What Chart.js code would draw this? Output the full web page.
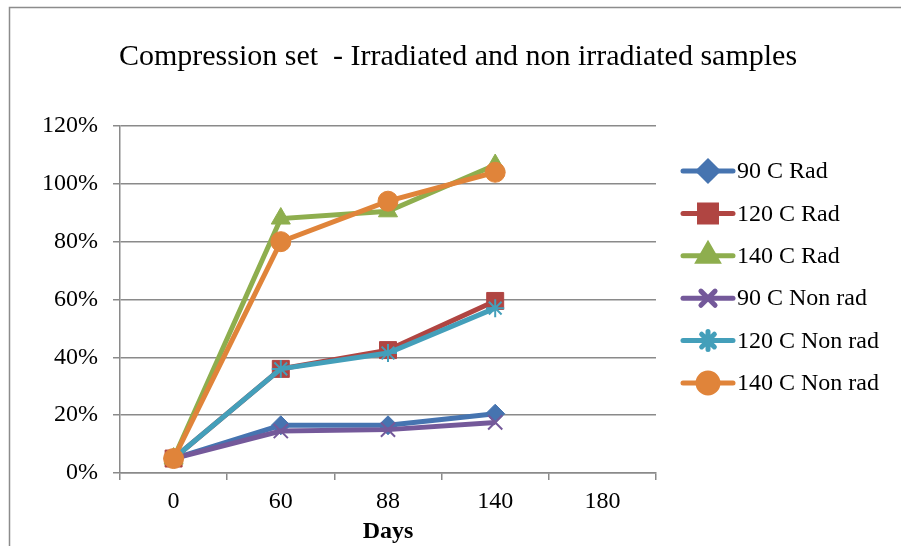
<!DOCTYPE html>
<html>
<head>
<meta charset="utf-8">
<script src="https://cdn.jsdelivr.net/npm/chart.js@4/dist/chart.umd.min.js"></script>
<style>
  html, body { margin: 0; padding: 0; background: #ffffff; }
  #wrap { width: 901px; height: 546px; position: relative; }
</style>
</head>
<body>
<div id="wrap"><canvas id="c" width="901" height="546"></canvas></div>
<script>
const chartTitle = 'Compression set  - Irradiated and non irradiated samples';
const xTitle = 'Days';
const categories = ['0', '60', '88', '140', '180'];
const seriesNames = ['90 C Rad', '120 C Rad', '140 C Rad', '90 C Non rad', '120 C Non rad', '140 C Non rad'];
const rad90 = [5, 16.5, 16.5, 20.5, null];
const rad120 = [5, 36, 42.5, 59.5, null];
const rad140 = [5, 88, 90.5, 106.5, null];
const nonRad90 = [5, 14.5, 15, 17.5, null];
const nonRad120 = [5, 36, 41.5, 57, null];
const nonRad140 = [5, 80, 94, 104, null];
const yTicks = [0, 20, 40, 60, 80, 100, 120];

const seriesValues = [rad90, rad120, rad140, nonRad90, nonRad120, nonRad140];
const colors = ['#4674b0', '#b04542', '#8eae4e', '#74599a', '#449fba', '#e0843a'];
const shapes = ['rectRot', 'rect', 'triangle', 'crossRot', 'star', 'circle'];
const radii = [9.5, 12, 11, 10, 9, 10];
const FONT = '"Liberation Serif", "Times New Roman", serif';
const GRID = '#8a8a8a';

const datasets = seriesNames.map((name, i) => ({
  label: name,
  data: seriesValues[i],
  borderColor: colors[i],
  backgroundColor: colors[i],
  borderWidth: 5,
  pointStyle: shapes[i],
  pointRadius: radii[i],
  pointHoverRadius: radii[i],
  pointBorderWidth: (shapes[i] === 'crossRot' || shapes[i] === 'star') ? 2 : 1,
  pointBorderColor: colors[i],
  pointBackgroundColor: colors[i],
  tension: 0,
  spanGaps: false,
  order: seriesNames.length - i
}));

const framePlugin = {
  id: 'frame',
  beforeDraw(chart) {
    const ctx = chart.ctx;
    ctx.save();
    ctx.fillStyle = '#ffffff';
    ctx.fillRect(0, 0, chart.width, chart.height);
    ctx.strokeStyle = '#8c8c8c';
    ctx.lineWidth = 1.5;
    ctx.strokeRect(9.5, 7.5, 1200, 1200);
    ctx.restore();
  }
};

const titleLegendPlugin = {
  id: 'titleLegend',
  afterDraw(chart) {
    const ctx = chart.ctx;
    ctx.save();
    ctx.fillStyle = '#000000';
    ctx.font = '30px ' + FONT;
    ctx.textAlign = 'center';
    ctx.textBaseline = 'alphabetic';
    ctx.fillText(chartTitle, 458, 65);

    const x0 = 683, x1 = 733, tx = 737;
    const yStart = 171, step = 42.4;
    chart.data.datasets.forEach((ds, i) => {
      const y = yStart + i * step;
      ctx.strokeStyle = ds.borderColor;
      ctx.lineWidth = 5;
      ctx.lineCap = 'round';
      ctx.beginPath();
      ctx.moveTo(x0, y);
      ctx.lineTo(x1, y);
      ctx.stroke();
      Chart.helpers.drawPoint(ctx, {
        pointStyle: ds.pointStyle,
        radius: ds.pointRadius,
        rotation: 0,
        borderWidth: ds.pointBorderWidth
      }, (x0 + x1) / 2, y);
      ctx.fillStyle = ds.borderColor;
      ctx.strokeStyle = ds.borderColor;
      ctx.lineWidth = ds.pointBorderWidth;
      ctx.fill();
      if (ds.pointBorderWidth) ctx.stroke();
      ctx.fillStyle = '#000000';
      ctx.font = '24px ' + FONT;
      ctx.textAlign = 'left';
      ctx.textBaseline = 'middle';
      ctx.fillText(ds.label, tx, y + 1);
    });
    ctx.restore();
  }
};

new Chart(document.getElementById('c'), {
  type: 'line',
  data: { labels: categories, datasets: datasets },
  options: {
    responsive: false,
    animation: false,
    events: [],
    layout: { padding: { left: 0, right: 245, top: 126, bottom: 0 } },
    plugins: {
      legend: { display: false },
      title: { display: false },
      tooltip: { enabled: false }
    },
    scales: {
      x: {
        type: 'category',
        offset: true,
        afterFit(scale) { scale.height = 73; },
        grid: {
          display: true,
          offset: true,
          drawOnChartArea: false,
          drawTicks: true,
          tickLength: 7,
          color: GRID,
          lineWidth: 1.5
        },
        border: { display: true, color: GRID, width: 1.5 },
        ticks: {
          color: '#000000',
          font: { family: FONT, size: 24 },
          padding: 7,
          maxRotation: 0
        },
        title: {
          display: true,
          text: xTitle,
          color: '#000000',
          font: { family: FONT, size: 24, weight: 'bold' },
          padding: { top: 0, bottom: 0 }
        }
      },
      y: {
        min: 0,
        max: 120,
        afterFit(scale) { scale.width = 120; },
        afterBuildTicks(scale) { scale.ticks = yTicks.map(v => ({ value: v })); },
        grid: {
          color: GRID,
          lineWidth: 1.5,
          tickLength: 7,
          drawTicks: true
        },
        border: { display: true, color: GRID, width: 1.5 },
        ticks: {
          color: '#000000',
          font: { family: FONT, size: 24 },
          padding: 15,
          callback: v => v + '%'
        }
      }
    }
  },
  plugins: [framePlugin, titleLegendPlugin]
});
</script>
</body>
</html>
